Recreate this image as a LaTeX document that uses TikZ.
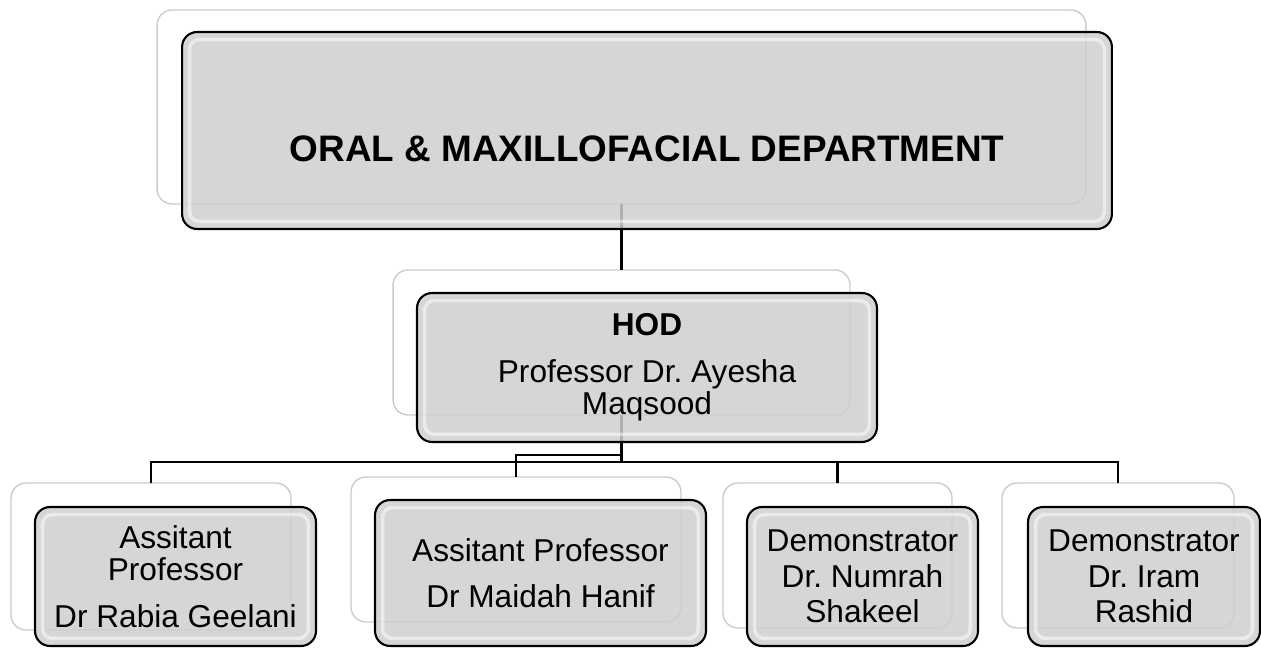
\documentclass[tikz,border=0pt]{standalone}
\usepackage{fontspec}
\setmainfont{Liberation Sans}
\usetikzlibrary{positioning}
\frenchspacing

\tikzset{
  backbox/.style={draw=gray!40, fill=white, line width=0.8pt, rounded corners=0.3cm, inner sep=0pt, outer sep=0pt},
  frontbox/.style={draw=black, fill=gray!38, fill opacity=0.85, text opacity=1, line width=1.2pt,
    rounded corners=0.3cm, inner sep=0pt, outer sep=0pt, align=center,
    font=\fontsize{18}{18.5}\selectfont,
    path picture={\draw[white, opacity=0.5, line width=2pt, rounded corners=0.2cm]
      ([shift={(0.15cm,-0.15cm)}]path picture bounding box.north west) rectangle
      ([shift={(-0.15cm,0.15cm)}]path picture bounding box.south east);}},
  conn/.style={draw=black, line width=1.4pt},
  demotext/.style={font=\fontsize{18}{20.2}\selectfont},
}

\begin{document}
\begin{tikzpicture}[x=0.02cm, y=-0.02cm]
    \useasboundingbox (0,0) rectangle (1261,648);

    % Back boxes
    \node[backbox, minimum width=18.58cm, minimum height=3.88cm] (deptback) at (621.5,107) {};
    \node[backbox, minimum width=9.14cm, minimum height=2.9cm] (hodback) at (621.5,342.5) {};
    \node[backbox, minimum width=5.6cm, minimum height=2.94cm] (asstoneback) at (151,556.5) {};
    \node[backbox, minimum width=6.6cm, minimum height=2.9cm] (assttwoback) at (516,549.5) {};
    \node[backbox, minimum width=4.58cm, minimum height=2.9cm] (demooneback) at (837.5,555.5) {};
    \node[backbox, minimum width=4.64cm, minimum height=2.9cm] (demotwoback) at (1118,555.5) {};

    % Connectors
    \coordinate (hub) at (621.5,462);
    \coordinate (hubtwo) at (621.5,455);
    \draw[conn] (deptback.south) -- (hodback.north);
    \draw[conn] (hodback.south) -- (hub);
    \draw[conn] (asstoneback.north) |- (hub) -| (demotwoback.north);
    \draw[conn] (demooneback.north) -- (demooneback.north |- hub);
    \draw[conn] (hubtwo) -| (assttwoback.north);

    % Front boxes
    \node[frontbox, minimum width=18.6cm, minimum height=3.94cm] (dept) at (647,130.5) {};
    \node[font=\bfseries\fontsize{21}{24}\selectfont] (depttitle) at (647,148.5) {ORAL \& MAXILLOFACIAL DEPARTMENT};
    \node[frontbox, minimum width=9.2cm, minimum height=2.98cm] (hod) at (647,367.5)
        {\textbf{HOD}\\[8pt]Professor Dr. Ayesha\\Maqsood};
    \node[frontbox, minimum width=5.62cm, minimum height=2.78cm] (asstone) at (175.5,576.5)
        {Assitant\\Professor\\[8pt]Dr Rabia Geelani};
    \node[frontbox, minimum width=6.62cm, minimum height=2.92cm] (assttwo) at (540.5,573)
        {Assitant Professor\\[8pt]Dr Maidah Hanif};
    \node[frontbox, demotext, minimum width=4.62cm, minimum height=2.78cm] (demoone) at (862.5,576.5)
        {Demonstrator\\Dr. Numrah\\Shakeel};
    \node[frontbox, demotext, minimum width=4.64cm, minimum height=2.78cm] (demotwo) at (1144,576.5)
        {Demonstrator\\Dr. Iram\\Rashid};
\end{tikzpicture}
\end{document}
